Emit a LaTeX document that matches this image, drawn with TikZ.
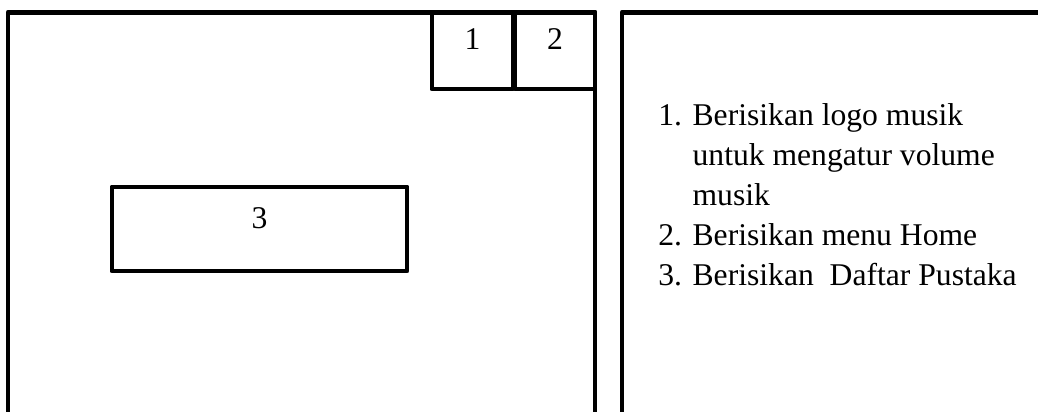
\documentclass[tikz,border=0pt]{standalone}
\usepackage{fontspec}
\setmainfont{Liberation Serif}
\usetikzlibrary{positioning}
\tikzset{
  frame/.style = {line width=2.8pt, line join=round},
  mbox/.style  = {draw, line width=2.8pt, line join=round, inner sep=0pt,
                  outer sep=0pt, font=\fontsize{18}{22.8}\selectfont,
                  text height=12pt, text depth=13pt},
  ltxt/.style  = {inner sep=0pt, font=\fontsize{18}{22.8}\selectfont},
}
\begin{document}
\begin{tikzpicture}
  \useasboundingbox (0,0) rectangle (20.76,8.22);
  \clip (0,0) rectangle (20.76,8.22);
  % left panel (screen)
  \draw[frame] (0.16,-0.3) -- (0.16,7.97) -- (11.9,7.97) -- (11.9,-0.3);
  \node[mbox, minimum width=1.62cm, minimum height=1.53cm] (b1) at (9.45,7.205) {1};
  \node[mbox, minimum width=1.60cm, minimum height=1.53cm] (b2) at (11.10,7.205) {2};
  \node[mbox, minimum width=5.90cm, minimum height=1.68cm] (b3) at (5.19,3.64) {3};
  % right panel (keterangan)
  \draw[frame] (12.44,-0.3) -- (12.44,7.97) -- (21.2,7.97);
  \node[ltxt, anchor=base west] (ket) at (13.16,5.72) {%
    \begin{tabular}[t]{@{}l@{\hspace{6pt}}l@{}}
      1. & Berisikan logo musik\\
         & untuk mengatur volume\\
         & musik\\
      2. & Berisikan menu Home\\
      3. & Berisikan~ Daftar Pustaka
    \end{tabular}};
\end{tikzpicture}
\end{document}
